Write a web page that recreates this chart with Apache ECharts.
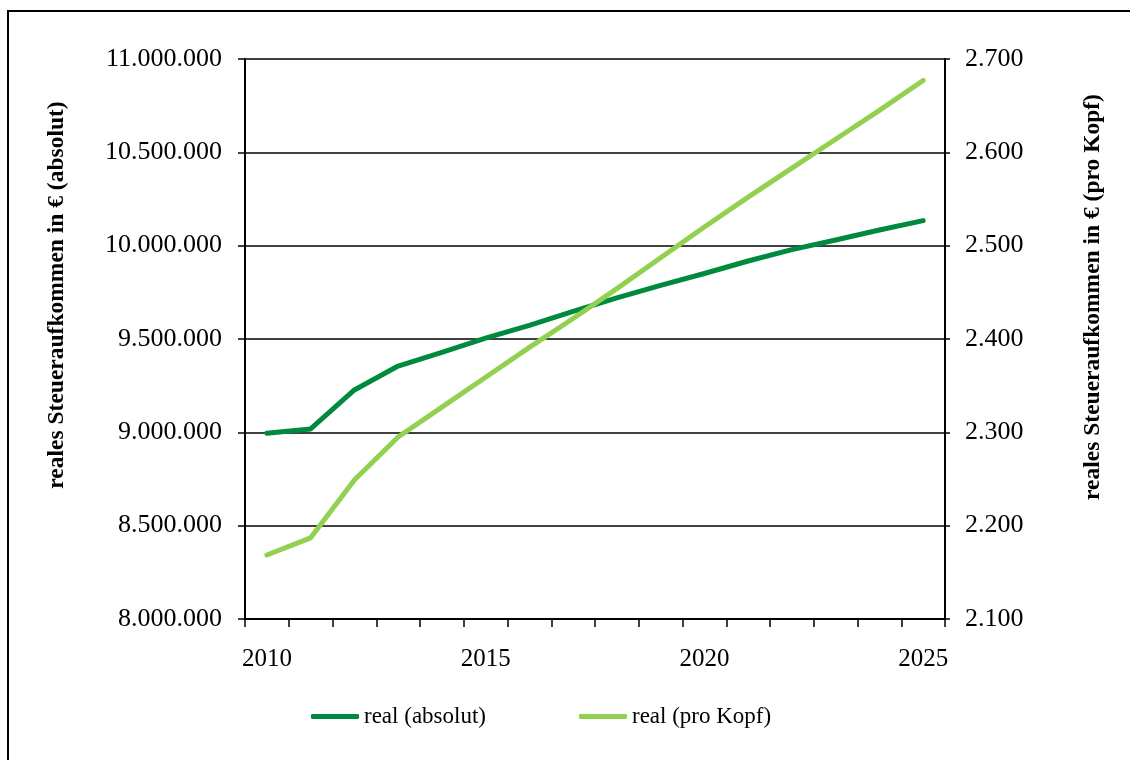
<!DOCTYPE html>
<html>
<head>
<meta charset="utf-8">
<script src="https://cdn.jsdelivr.net/npm/echarts@6/dist/echarts.min.js"></script>
<style>html,body{margin:0;padding:0;background:#fff;}#c{width:1130px;height:760px;}</style>
</head>
<body>
<div id="c"></div>
<script>
const years = ['2010','2011','2012','2013','2014','2015','2016','2017','2018','2019','2020','2021','2022','2023','2024','2025'];
const realAbsolut = [8995000, 9018000, 9227000, 9355000, 9428000, 9505000, 9573000, 9648000, 9720000, 9787000, 9851000, 9918000, 9979000, 10030000, 10084000, 10134000];
const realProKopf = [2168.6, 2187, 2249, 2295, 2327, 2359, 2391, 2422, 2454, 2487, 2520, 2552, 2583, 2614, 2645, 2677];
const seriesNames = ['real (absolut)', 'real (pro Kopf)'];
const leftAxisTitle = 'reales Steueraufkommen in € (absolut)';
const rightAxisTitle = 'reales Steueraufkommen in € (pro Kopf)';

const fmt = v => String(Math.round(v)).replace(/\B(?=(\d{3})+(?!\d))/g, '.');
const FONT = '"Liberation Serif", "Times New Roman", serif';

const chart = echarts.init(document.getElementById('c'), null, {renderer: 'canvas'});
chart.setOption({
  animation: false,
  backgroundColor: '#fff',
  textStyle: {fontFamily: FONT, color: '#000'},
  grid: {left: 245, right: 185, top: 59, bottom: 141},
  graphic: [
    {type: 'rect', shape: {x: 8, y: 11, width: 1140, height: 770}, style: {fill: 'none', stroke: '#000', lineWidth: 2}, silent: true},
    {type: 'text', x: 57, y: 295, rotation: Math.PI / 2,
     style: {text: leftAxisTitle, font: 'bold 23.5px "Liberation Serif", serif', fill: '#000', align: 'center', verticalAlign: 'middle'}},
    {type: 'text', x: 1093, y: 297, rotation: Math.PI / 2,
     style: {text: rightAxisTitle, font: 'bold 23.5px "Liberation Serif", serif', fill: '#000', align: 'center', verticalAlign: 'middle'}}
  ],
  legend: {
    left: 311, top: 705, padding: 0,
    itemWidth: 48, itemHeight: 5, itemGap: 93,
    icon: 'roundRect',
    textStyle: {fontFamily: FONT, fontSize: 23, color: '#000'},
    data: seriesNames
  },
  xAxis: {
    type: 'category',
    data: years,
    boundaryGap: true,
    axisLine: {lineStyle: {color: '#000', width: 2}},
    axisTick: {show: true, interval: 0, length: 8, lineStyle: {color: '#000', width: 1.5}},
    axisLabel: {interval: 4, margin: 28, fontFamily: FONT, fontSize: 25, color: '#000'},
    splitLine: {show: false}
  },
  yAxis: [
    {
      type: 'value', min: 8000000, max: 11000000, interval: 500000,
      axisLine: {show: true, lineStyle: {color: '#000', width: 2}},
      axisTick: {show: true, length: 7, lineStyle: {color: '#000', width: 1.5}},
      axisLabel: {margin: 23, fontFamily: FONT, fontSize: 26, color: '#000', formatter: fmt},
      splitLine: {show: true, lineStyle: {color: '#000', width: 1.5}}
    },
    {
      type: 'value', min: 2100, max: 2700, interval: 100,
      axisLine: {show: true, lineStyle: {color: '#000', width: 2}},
      axisTick: {show: true, length: 5, lineStyle: {color: '#000', width: 1.5}},
      axisLabel: {margin: 20, fontFamily: FONT, fontSize: 26, color: '#000', formatter: fmt},
      splitLine: {show: false}
    }
  ],
  series: [
    {
      name: seriesNames[0], type: 'line', yAxisIndex: 0, data: realAbsolut,
      showSymbol: false, symbol: 'none',
      itemStyle: {color: '#008A3E'},
      lineStyle: {color: '#008A3E', width: 5, cap: 'round', join: 'round'}
    },
    {
      name: seriesNames[1], type: 'line', yAxisIndex: 1, data: realProKopf,
      showSymbol: false, symbol: 'none',
      itemStyle: {color: '#92D050'},
      lineStyle: {color: '#92D050', width: 5, cap: 'round', join: 'round'}
    }
  ]
});
</script>
</body>
</html>
